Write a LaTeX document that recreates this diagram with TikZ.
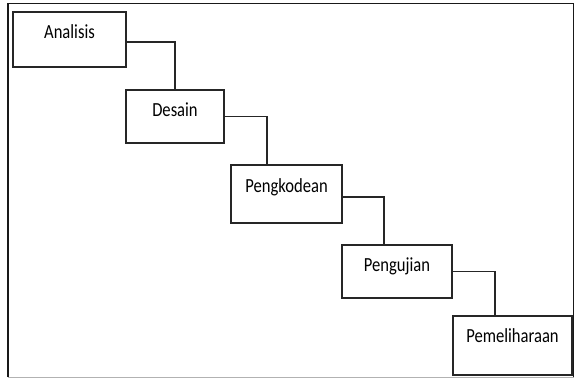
\documentclass[tikz,border=0pt]{standalone}
\usepackage{fontspec}
\setmainfont{Carlito}[FakeStretch=0.83]
\begin{document}
\begin{tikzpicture}[x=1pt,y=-1pt,
  stage/.style={draw=black!85,line width=1.4pt,rectangle,inner sep=0pt},
  lbl/.style={anchor=base,inner sep=0pt,font=\fontsize{20}{24}\selectfont,text=black},
  conn/.style={draw=black!85,line width=1.3pt}]
\useasboundingbox (0,0) rectangle (575,378);
% outer frame
\draw[line width=1.8pt,black!90] (8,377) -- (8,3.5) -- (573.5,3.5) -- (573.5,377);
\draw[line width=1pt,black!30] (8,377) -- (573.5,377);
% boxes
\node[stage,minimum width=113pt,minimum height=55pt] (A) at (69.5,39.5) {};
\node[stage,minimum width=98pt,minimum height=53pt] (D) at (175,116.5) {};
\node[stage,minimum width=111pt,minimum height=58pt] (K) at (286.5,194) {};
\node[stage,minimum width=110pt,minimum height=53pt] (U) at (397,271.5) {};
\node[stage,minimum width=119pt,minimum height=59pt] (M) at (512.5,345.5) {};
% labels
\node[lbl] (tA) at ([yshift=-27.5pt]A.north) {Analisis};
\node[lbl] (tD) at ([yshift=-27pt]D.north) {Desain};
\node[lbl] (tK) at ([yshift=-28pt]K.north) {Pengkodean};
\node[lbl] (tU) at ([yshift=-27pt]U.north) {Pengujian};
\node[lbl] (tM) at ([yshift=-27pt]M.north) {Pemeliharaan};
% connectors
\draw[conn] ([yshift=-2.5pt]A.east) -| (D.north);
\draw[conn] (D.east) -| ([xshift=-19.5pt]K.north);
\draw[conn] ([yshift=-3pt]K.east) -| ([xshift=-13pt]U.north);
\draw[conn] (U.east) -| ([xshift=-17.5pt]M.north);
\end{tikzpicture}
\end{document}
